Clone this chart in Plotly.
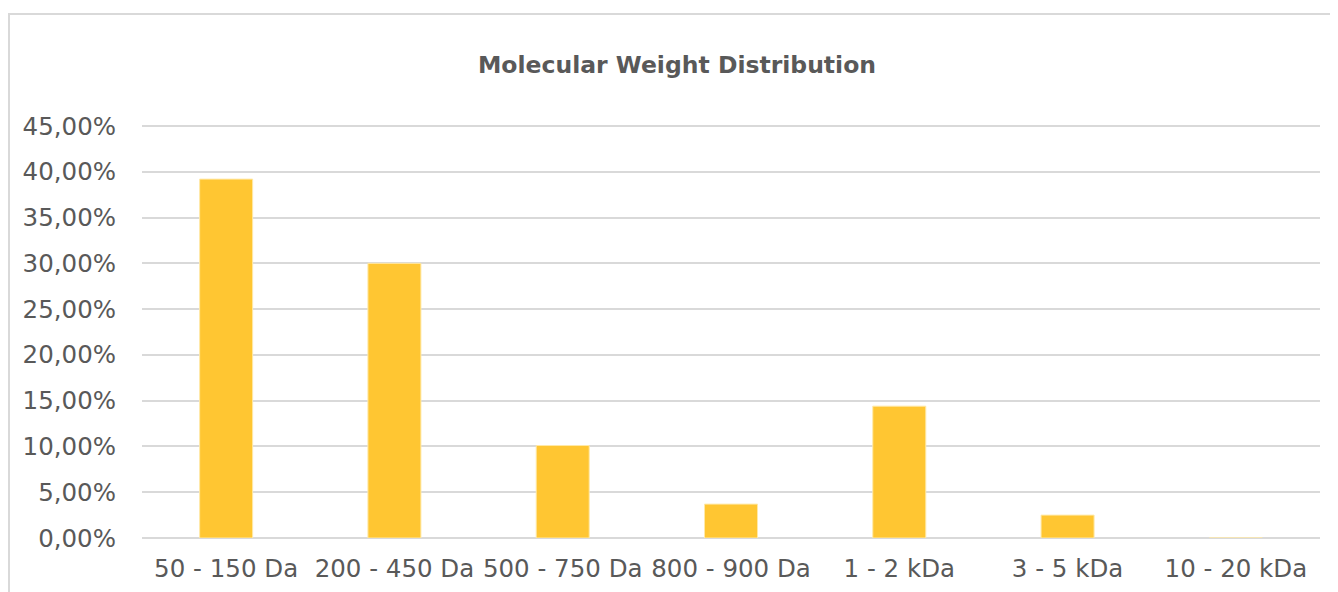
import plotly.graph_objects as go

categories = ["50 - 150 Da", "200 - 450 Da", "500 - 750 Da", "800 - 900 Da",
              "1 - 2 kDa", "3 - 5 kDa", "10 - 20 kDa"]
values = [0.392, 0.300, 0.101, 0.037, 0.144, 0.025, 0.0]
y_ticks = [0, 0.05, 0.10, 0.15, 0.20, 0.25, 0.30, 0.35, 0.40, 0.45]

OFF = 8  # page body margin
W, H = 1338 - OFF, 592 - OFF
L, R, T, B = 142 - OFF, 18, 124 - OFF, 54
pw, ph = W - L - R, H - T - B
y_top = ph / (412 / 0.45)

fig = go.Figure(go.Bar(
    x=categories, y=values,
    marker=dict(color="#FFC632", line=dict(color="#FFE9A8", width=1)),
))

fig.update_layout(
    width=W, height=H,
    margin=dict(l=L, r=R, t=T, b=B, autoexpand=False),
    paper_bgcolor="white", plot_bgcolor="white",
    separators=",.",
    bargap=0.685,
    showlegend=False,
    font=dict(family="DejaVu Sans, Verdana, sans-serif", color="#595959", size=24),
    title=dict(text="<b>Molecular Weight Distribution</b>",
               font=dict(size=23.5, color="#595959"),
               x=(677 - OFF) / W, xanchor="center", y=1 - (65 - OFF) / H, yanchor="middle"),
    xaxis=dict(showgrid=False, showline=False, zeroline=False, tickangle=0,
               ticks="", ticklabelstandoff=13, automargin=False,
               tickfont=dict(size=24.5, color="#595959")),
    yaxis=dict(range=[0, y_top], tickvals=y_ticks, tickformat=".2%",
               showgrid=True, gridcolor="#D9D9D9", gridwidth=1.5,
               zeroline=True, zerolinecolor="#D9D9D9", zerolinewidth=1.5,
               showline=False, ticks="", ticklabelstandoff=25, automargin=False,
               tickfont=dict(size=24.5, color="#595959")),
    shapes=[dict(type="rect", xref="paper", yref="paper",
                 x0=(1 - L) / pw, x1=(W + 10 - L) / pw,
                 y0=(H - B - (H + 10)) / ph, y1=(H - B - (14 - OFF)) / ph,
                 line=dict(color="#D9D9D9", width=2), fillcolor="rgba(0,0,0,0)",
                 layer="below")],
)

fig.write_html("out.html")
